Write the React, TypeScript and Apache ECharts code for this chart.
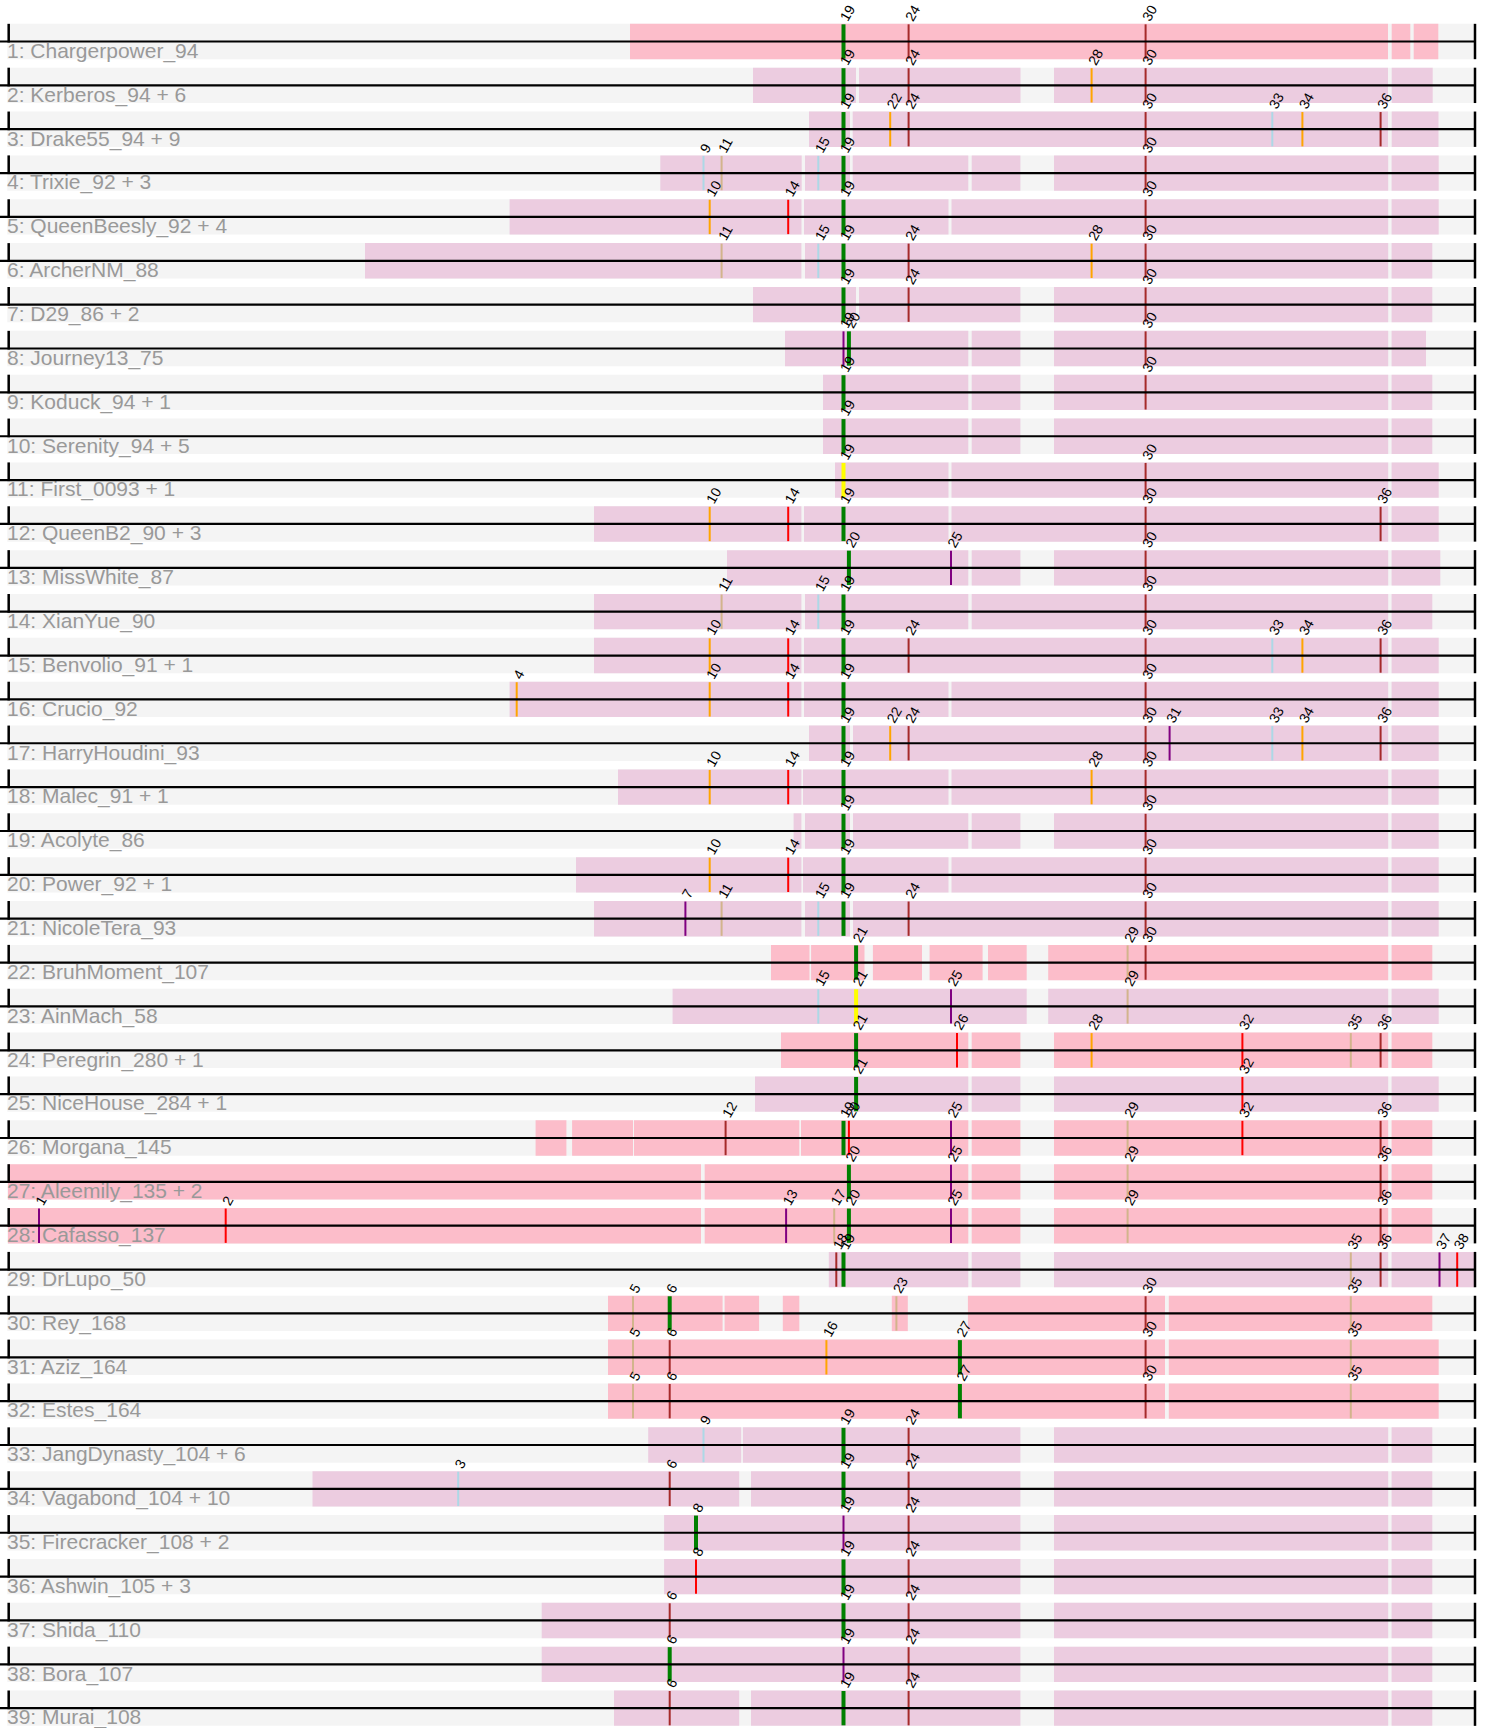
import React, { useEffect, useRef } from "react";
import * as echarts from "echarts";

// ---------- data ----------
const rowLabels = [
  "1: Chargerpower_94", "2: Kerberos_94 + 6", "3: Drake55_94 + 9", "4: Trixie_92 + 3",
  "5: QueenBeesly_92 + 4", "6: ArcherNM_88", "7: D29_86 + 2", "8: Journey13_75",
  "9: Koduck_94 + 1", "10: Serenity_94 + 5", "11: First_0093 + 1", "12: QueenB2_90 + 3",
  "13: MissWhite_87", "14: XianYue_90", "15: Benvolio_91 + 1", "16: Crucio_92",
  "17: HarryHoudini_93", "18: Malec_91 + 1", "19: Acolyte_86", "20: Power_92 + 1",
  "21: NicoleTera_93", "22: BruhMoment_107", "23: AinMach_58", "24: Peregrin_280 + 1",
  "25: NiceHouse_284 + 1", "26: Morgana_145", "27: Aleemily_135 + 2", "28: Cafasso_137",
  "29: DrLupo_50", "30: Rey_168", "31: Aziz_164", "32: Estes_164",
  "33: JangDynasty_104 + 6", "34: Vagabond_104 + 10", "35: Firecracker_108 + 2",
  "36: Ashwin_105 + 3", "37: Shida_110", "38: Bora_107", "39: Murai_108",
];

// p = pink, m = mauve
const rowKind = [
  "p", "m", "m", "m", "m", "m", "m", "m", "m", "m", "m", "m", "m", "m", "m", "m", "m", "m", "m", "m",
  "m", "p", "m", "p", "m", "p", "p", "p", "m", "p", "p", "p", "m", "m", "m", "m", "m", "m", "m",
];

// positions of markers 1..38 along the track
const markerPositions = [
  39, 225.7, 458.2, 516.7, 633, 669.7, 685.4, 696, 703.5, 709.7,
  721.6, 725.6, 786.1, 788.2, 818.3, 826.4, 834.2, 836.3, 843.5, 848.9,
  856.1, 890.2, 896.4, 908.6, 951, 957, 959.9, 1091.6, 1127.6, 1145.6,
  1169.6, 1242.4, 1272.3, 1302.4, 1350.8, 1380.6, 1439.5, 1457.2,
];

// covered segments per row: [start, end]
const segmentsByRow: number[][][] = [
  [[630, 1388], [1391.7, 1410.3], [1413.7, 1438.3]],
  [[753, 856], [859, 1020.5], [1054, 1388], [1391.7, 1432.7]],
  [[809, 850], [852.7, 1388], [1391.7, 1438.5]],
  [[660.3, 801.7], [805, 850], [852.7, 968.3], [971.7, 1020.4], [1054, 1388.2], [1391.6, 1438.7]],
  [[509.6, 801.5], [804, 948.5], [951.5, 1388.2], [1391.6, 1438.7]],
  [[365, 801.4], [805, 1388.2], [1391.6, 1432.3]],
  [[753, 856], [859, 1020.4], [1054, 1388.2], [1391.6, 1432.3]],
  [[785, 968.3], [971.7, 1020.4], [1054, 1388.2], [1391.6, 1426]],
  [[823, 968.3], [971.7, 1020.4], [1054, 1388.2], [1391.6, 1432.3]],
  [[823, 968.3], [971.7, 1020.4], [1054, 1388.2], [1391.6, 1432.3]],
  [[835, 948.5], [951.5, 1388.2], [1391.6, 1438.7]],
  [[594, 801.4], [804, 948.5], [951.5, 1388.2], [1391.6, 1438.7]],
  [[727, 968.3], [971.7, 1020.4], [1054, 1388.2], [1391.6, 1440.3]],
  [[594, 801.4], [805, 968.3], [971.7, 1388.2], [1391.6, 1432.3]],
  [[594, 801.4], [804, 1388.2], [1391.6, 1438.7]],
  [[509.6, 801.4], [804, 948.5], [951.5, 1388.2], [1391.6, 1438.7]],
  [[809, 850], [853, 1388.2], [1391.6, 1438.7]],
  [[618, 801.4], [803, 948.5], [951.5, 1388.2], [1391.6, 1438.7]],
  [[793.6, 801.4], [805, 850], [853, 968.3], [971.7, 1020.4], [1054, 1388.2], [1391.6, 1438.7]],
  [[576, 801.4], [803, 948.5], [951.5, 1388.2], [1391.6, 1438.7]],
  [[594, 801.4], [805, 850], [853, 1388.2], [1391.6, 1438.7]],
  [[771, 809.5], [811.1, 864.5], [872.9, 922], [929.6, 982.6], [988, 1026.7], [1048.2, 1388.2], [1391.6, 1432.3]],
  [[672.6, 1026.7], [1048.2, 1388.2], [1391.6, 1438.7]],
  [[781, 968.3], [971.7, 1020.4], [1054, 1388.2], [1391.6, 1432.3]],
  [[755, 968.3], [971.7, 1020.4], [1054, 1388.2], [1391.6, 1438.7]],
  [[535.6, 566.4], [572.1, 633], [634, 799.3], [801, 968.3], [971.7, 1020.4], [1054, 1388.2], [1391.6, 1432.3]],
  [[8, 701], [704.7, 968.3], [971.7, 1020.4], [1054, 1388.2], [1391.6, 1432.3]],
  [[8, 701], [704.7, 968.3], [971.7, 1020.4], [1054, 1388.2], [1391.6, 1432.3]],
  [[828.8, 968.3], [971.7, 1020.4], [1054, 1388.2], [1391.6, 1475]],
  [[608, 722.6], [724.6, 759.1], [782.8, 799.3], [891.8, 907.8], [967.9, 1165], [1168.8, 1432.3]],
  [[608, 1165], [1168.8, 1438.7]],
  [[608, 1165], [1168.8, 1438.7]],
  [[648.2, 741.2], [742.9, 1020.4], [1054, 1388.2], [1391.6, 1432.3]],
  [[312.5, 739.2], [751, 1020.4], [1054, 1388.2], [1391.6, 1432.3]],
  [[664.1, 1020.4], [1054, 1388.2], [1391.6, 1432.3]],
  [[664.1, 1020.4], [1054, 1388.2], [1391.6, 1432.3]],
  [[541.7, 1020.4], [1054, 1388.2], [1391.6, 1432.3]],
  [[541.7, 1020.4], [1054, 1388.2], [1391.6, 1432.3]],
  [[614, 739.2], [751, 1020.4], [1054, 1388.2], [1391.6, 1432.3]],
];

// markers per row; suffix g = green highlight, y = yellow highlight
const ticksByRow: string[][] = [
  ["19g", "24", "30"],
  ["19g", "24", "28", "30"],
  ["19g", "22", "24", "30", "33", "34", "36"],
  ["9", "11", "15", "19g", "30"],
  ["10", "14", "19g", "30"],
  ["11", "15", "19g", "24", "28", "30"],
  ["19g", "24", "30"],
  ["19", "20g", "30"],
  ["19g", "30"],
  ["19g"],
  ["19y", "30"],
  ["10", "14", "19g", "30", "36"],
  ["20g", "25", "30"],
  ["11", "15", "19g", "30"],
  ["10", "14", "19g", "24", "30", "33", "34", "36"],
  ["4", "10", "14", "19g", "30"],
  ["19g", "22", "24", "30", "31", "33", "34", "36"],
  ["10", "14", "19g", "28", "30"],
  ["19g", "30"],
  ["10", "14", "19g", "30"],
  ["7", "11", "15", "19g", "24", "30"],
  ["21g", "29", "30"],
  ["15", "21y", "25", "29"],
  ["21g", "26", "28", "32", "35", "36"],
  ["21g", "32"],
  ["12", "19g", "20", "25", "29", "32", "36"],
  ["20g", "25", "29", "36"],
  ["1", "2", "13", "17", "20g", "25", "29", "36"],
  ["18", "19g", "35", "36", "37", "38"],
  ["5", "6g", "23", "30", "35"],
  ["5", "6", "16", "27g", "30", "35"],
  ["5", "6", "27g", "30", "35"],
  ["9", "19g", "24"],
  ["3", "6", "19g", "24"],
  ["8g", "19", "24"],
  ["8", "19g", "24"],
  ["6", "19g", "24"],
  ["6g", "19", "24"],
  ["6", "19g", "24"],
];

// ---------- styling ----------
const X_MIN = 8;
const X_MAX = 1475;
const markerPalette = ["#800080", "#ff0000", "#add8e6", "#ffa500", "#d2b48c", "#a52a2a"];
const kindColor: Record<string, string> = { p: "#fcbdca", m: "#eccce0" };
const FONT = "'Liberation Sans', Arial, Helvetica, sans-serif";

const rowData = rowLabels.map((label, i) => [i + 1, label, rowKind[i]]);
const segmentData: any[] = [];
segmentsByRow.forEach((segs, i) => segs.forEach(([s, e]) => segmentData.push([i + 1, s, e, rowKind[i]])));
const tickData: any[] = [];
ticksByRow.forEach((ts, i) =>
  ts.forEach((t) => {
    const id = parseInt(t, 10);
    const hl = t.endsWith("g") ? 1 : t.endsWith("y") ? 2 : 0;
    tickData.push([i + 1, markerPositions[id - 1], hl, id]);
  })
);

function bandHalf(api: any) {
  return api.size([0, 1])[1] * 0.403;
}

export default function App() {
  const ref = useRef<HTMLDivElement>(null);
  useEffect(() => {
    if (!ref.current) return;
    const chart = echarts.init(ref.current, null, { renderer: "svg" });
    const option: any = {
      animation: false,
      backgroundColor: "#ffffff",
      grid: { left: 8, right: 14, top: 41.5, bottom: 1728 - 41.5 - 38 * 43.86 },
      xAxis: { type: "value", min: X_MIN, max: X_MAX, show: false },
      yAxis: { type: "value", min: 1, max: 39, inverse: true, show: false },
      series: [
        {
          type: "custom",
          name: "bands",
          data: rowData,
          renderItem: (params: any, api: any) => {
            const row = api.value(0);
            const [x0, y] = api.coord([X_MIN, row]);
            const [x1] = api.coord([X_MAX, row]);
            const h = bandHalf(api);
            return {
              type: "rect",
              shape: { x: x0 - 0.7, y: y - h, width: x1 - x0 + 0.7, height: 2 * h },
              style: { fill: "#f4f4f4" },
            };
          },
        },
        {
          type: "custom",
          name: "segments",
          data: segmentData,
          renderItem: (params: any, api: any) => {
            const row = api.value(0);
            const [xs, y] = api.coord([api.value(1), row]);
            const [xe] = api.coord([api.value(2), row]);
            const h = bandHalf(api);
            return {
              type: "rect",
              shape: { x: xs, y: y - h, width: xe - xs, height: 2 * h },
              style: { fill: kindColor[segmentData[params.dataIndex][3]] },
            };
          },
        },
        {
          type: "custom",
          name: "rowLabels",
          data: rowData,
          renderItem: (params: any, api: any) => {
            const row = api.value(0);
            const [x0, y] = api.coord([X_MIN, row]);
            return {
              type: "text",
              x: x0 - 1,
              y: y + 8.8,
              style: {
                text: rowLabels[params.dataIndex],
                fill: "#999999",
                fontSize: 21,
                fontFamily: FONT,
                align: "left",
                verticalAlign: "middle",
              },
            };
          },
        },
        {
          type: "custom",
          name: "ticks",
          data: tickData,
          renderItem: (params: any, api: any) => {
            const row = api.value(0);
            const [x, y] = api.coord([api.value(1), row]);
            const hl = api.value(2);
            const id = api.value(3);
            const h = bandHalf(api);
            const color = hl === 1 ? "#008000" : hl === 2 ? "#ffff00" : markerPalette[(id - 1) % 6];
            return {
              type: "line",
              shape: { x1: x, y1: y - h + 0.5, x2: x, y2: y + h - 0.5 },
              style: { stroke: color, lineWidth: hl ? 4 : 2 },
            };
          },
        },
        {
          type: "custom",
          name: "backbone",
          data: rowData,
          renderItem: (params: any, api: any) => {
            const row = api.value(0);
            const [x0, y] = api.coord([X_MIN, row]);
            const [x1] = api.coord([X_MAX, row]);
            const h = bandHalf(api);
            return {
              type: "group",
              children: [
                { type: "line", shape: { x1: x0 - 8, y1: y, x2: x1, y2: y }, style: { stroke: "#000", lineWidth: 2.2 } },
                { type: "line", shape: { x1: x0 + 0.7, y1: y - h, x2: x0 + 0.7, y2: y + 1 }, style: { stroke: "#000", lineWidth: 2.5 } },
                { type: "line", shape: { x1: x1, y1: y - h, x2: x1, y2: y + h }, style: { stroke: "#000", lineWidth: 2.5 } },
              ],
            };
          },
        },
        {
          type: "custom",
          name: "tickLabels",
          data: tickData,
          renderItem: (params: any, api: any) => {
            const row = api.value(0);
            const [x, y] = api.coord([api.value(1), row]);
            const h = bandHalf(api);
            return {
              type: "text",
              x: x,
              y: y - h - 4,
              rotation: Math.PI / 3,
              style: {
                text: String(api.value(3)),
                fill: "#000",
                fontSize: 14,
                fontFamily: FONT,
                align: "left",
                verticalAlign: "middle",
              },
            };
          },
        },
      ],
    };
    chart.setOption(option);
    return () => chart.dispose();
  }, []);
  return (
    <div
      ref={ref}
      style={{ position: "absolute", left: 0, top: 0, width: 1489, height: 1728 }}
    />
  );
}
